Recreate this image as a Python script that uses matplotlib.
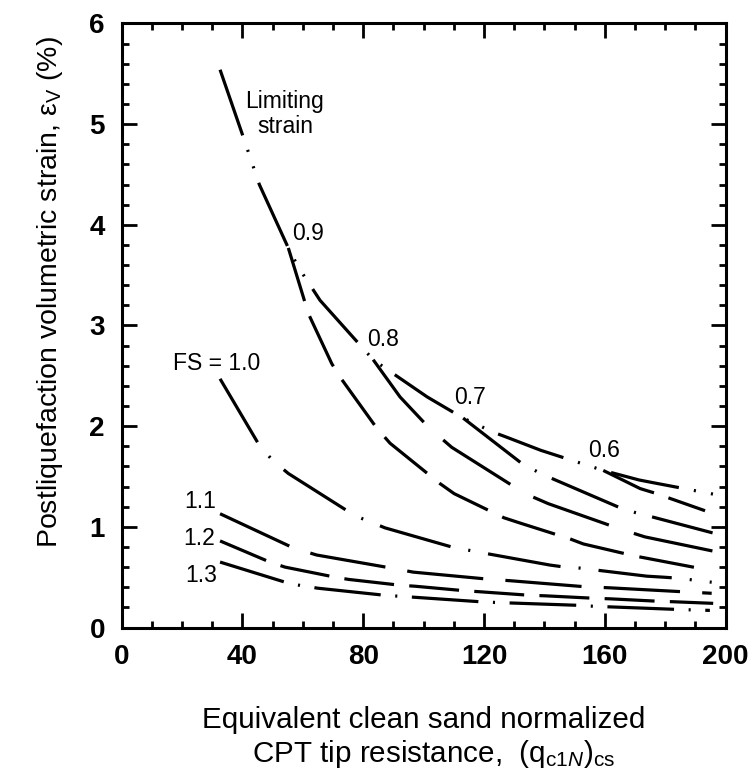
import matplotlib
matplotlib.use("Agg")
import matplotlib.pyplot as plt
from matplotlib.ticker import MultipleLocator

# ---------------- data ----------------
limit_x = [32.6, 40.3, 45.6, 55.2, 58.5, 65.7, 83.3, 90.5, 101.2, 113.1, 123.1,
           128.4, 138.8, 159.5, 171.4, 176.6, 195.9]
limit_y = [5.54, 4.87, 4.40, 3.77, 3.58, 3.25, 2.66, 2.51, 2.29, 2.08, 1.94,
           1.88, 1.76, 1.56, 1.465, 1.435, 1.325]

fs09_x = [55.2, 60.2, 61.8, 69.6, 72.5, 84.5, 88.9, 105.4, 110.1, 126.6, 131.7,
          148.5, 152.9, 170.0, 174.4, 191.0]
fs09_y = [3.77, 3.28, 3.12, 2.62, 2.48, 1.98, 1.83, 1.43, 1.33, 1.09, 1.04,
          0.88, 0.83, 0.71, 0.685, 0.59]

fs08_x = [83.3, 92.2, 101.6, 109.3, 133.6, 141.3, 165.9, 173.3, 195.7]
fs08_y = [2.66, 2.29, 1.99, 1.79, 1.33, 1.23, 0.97, 0.90, 0.76]

fs07_x = [113.1, 132.5, 137.8, 142.9, 165.0, 170.3, 175.5, 195.7]
fs07_y = [2.08, 1.63, 1.545, 1.475, 1.19, 1.14, 1.10, 0.94]

fs06_x = [159.5, 171.7, 176.6, 193.2]
fs06_y = [1.56, 1.38, 1.335, 1.16]

fs10_x = [32.6, 45.6, 50.0, 55.2, 77.3, 82.3, 87.2, 109.3, 114.5, 119.8, 141.9,
          146.8, 151.8, 173.9, 179.4, 184.3, 195.4]
fs10_y = [2.47, 1.81, 1.66, 1.53, 1.11, 1.05, 0.99, 0.80, 0.77, 0.74, 0.62,
          0.60, 0.59, 0.51, 0.50, 0.49, 0.45]

fs11_x = [32.6, 56.9, 64.6, 89.4, 96.6, 121.5, 128.6, 153.4, 161.2, 186.0, 195.4]
fs11_y = [1.13, 0.79, 0.72, 0.59, 0.55, 0.48, 0.465, 0.405, 0.395, 0.355, 0.34]

fs12_x = [32.6, 49.1, 54.1, 70.7, 75.1, 92.2, 97.2, 113.7, 118.7, 135.2, 140.2,
          156.8, 161.7, 178.3, 182.7, 195.9]
fs12_y = [0.86, 0.65, 0.60, 0.50, 0.478, 0.42, 0.41, 0.365, 0.355, 0.32, 0.315,
          0.29, 0.285, 0.26, 0.256, 0.24]

fs13_x = [32.6, 54.7, 59.6, 65.1, 87.2, 92.2, 97.2, 119.2, 124.5, 129.5, 151.6,
          156.8, 161.7, 183.8, 189.0, 194.8]
fs13_y = [0.65, 0.445, 0.415, 0.39, 0.32, 0.31, 0.30, 0.255, 0.248, 0.243, 0.22,
          0.21, 0.205, 0.18, 0.175, 0.17]

x_ticks = [0, 40, 80, 120, 160, 200]
y_ticks = [0, 1, 2, 3, 4, 5, 6]

labels = ["Limiting\nstrain", "0.9", "0.8", "0.7", "0.6", "FS = 1.0", "1.1", "1.2", "1.3"]
label_x = [54.1, 61.7, 86.6, 115.4, 159.7, 31.5, 26.1, 25.6, 26.5]
label_y = [5.10, 3.91, 2.86, 2.28, 1.76, 2.62, 1.25, 0.885, 0.52]

# ---------------- style ----------------
plt.rcParams['font.family'] = ['Liberation Sans', 'DejaVu Sans']
plt.rcParams['mathtext.fontset'] = 'custom'
plt.rcParams['mathtext.rm'] = 'Liberation Sans'
plt.rcParams['mathtext.it'] = 'Liberation Sans:italic'
plt.rcParams['lines.scale_dashes'] = False

fig = plt.figure(figsize=(7.54, 7.75), dpi=100)
ax = fig.add_axes([0.1613, 0.1903, 0.8010, 0.7795])

LW = 2.3
curves = [
    (limit_x, limit_y, (0, (50, 11, 1.5, 11, 1.5, 11))),
    (fs09_x, fs09_y, (0, (40, 11.5))),
    (fs08_x, fs08_y, (0, (58, 19))),
    (fs07_x, fs07_y, (0, (52, 12, 1.5, 12))),
    (fs06_x, fs06_y, (0, (40, 11))),
    (fs10_x, fs10_y, (0, (53, 13, 1.5, 13))),
    (fs11_x, fs11_y, (0, (55, 16))),
    (fs12_x, fs12_y, (0, (36, 11))),
    (fs13_x, fs13_y, (0, (48, 10.5, 1.5, 10.5))),
]
for xs, ys, ls in curves:
    ax.plot(xs, ys, color='black', lw=LW, linestyle=ls, dash_capstyle='butt')

for t, x, y in zip(labels, label_x, label_y):
    ax.text(x, y, t, ha='center', va='center', fontsize=16.5, linespacing=1.15)

ax.set_xlim(0, 200)
ax.set_ylim(0, 6)
ax.set_xticks(x_ticks)
ax.set_yticks(y_ticks)
ax.xaxis.set_minor_locator(MultipleLocator(10))
ax.yaxis.set_minor_locator(MultipleLocator(0.2))
ax.tick_params(which='both', direction='in', top=True, right=True, width=2)
ax.tick_params(which='major', length=10.8, labelsize=20, pad=12)
ax.tick_params(which='minor', length=5)
plt.setp(ax.get_xticklabels(), fontweight='bold')
plt.setp(ax.get_yticklabels(), fontweight='bold')
for sp in ax.spines.values():
    sp.set_linewidth(2.2)

fig.text(50 / 754, 1 - 292 / 775,
         'Postliquefaction volumetric strain, ε$_{\\mathrm{V}}$ (%)',
         rotation=90, ha='center', va='center', fontsize=20.5)
fig.text(423.5 / 754, 1 - 728.3 / 775, 'Equivalent clean sand normalized',
         ha='center', va='baseline', fontsize=21.3)
fig.text(433.5 / 754, 1 - 761.7 / 775,
         'CPT tip resistance,  (q$_{\\mathrm{c1}N}$)$_{\\mathrm{cs}}$',
         ha='center', va='baseline', fontsize=21.3)

fig.savefig('out.png', dpi=100)
